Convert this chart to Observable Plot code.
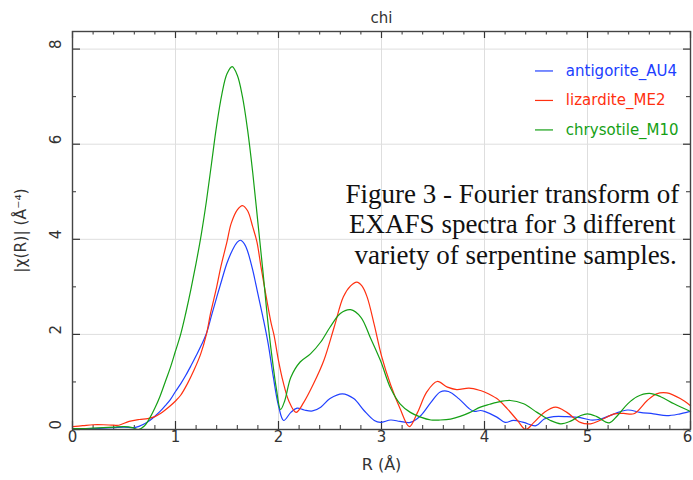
<!DOCTYPE html>
<html><head><meta charset="utf-8">
<script src="https://cdn.jsdelivr.net/npm/d3@7"></script>
<script src="https://cdn.jsdelivr.net/npm/@observablehq/plot@0.6"></script>
<style>body{margin:0;background:#fff;}</style>
</head><body><div id="chart"></div>
<script>
const title = "chi";
const xLabel = "R (Å)";
const yLabel = "|χ(R)| (Å⁻⁴)";
const seriesNames = ["antigorite_AU4", "lizardite_ME2", "chrysotile_M10"];
const seriesColors = ["#2040ff", "#ff3010", "#15a015"];
const annotation = "Figure 3 - Fourier transform of\nEXAFS spectra for 3 different\n variety of serpentine samples.";
const xTicks = [0, 1, 2, 3, 4, 5, 6];
const yTicks = [0, 2, 4, 6, 8];

// [R, |chi(R)|]
const antigorite = [[0,0.02],[0.2,0.02],[0.4,0.04],[0.5,0.05],[0.6,0.04],[0.65,0.07],[0.7,0.12],[0.75,0.19],[0.8,0.28],[0.85,0.38],[0.9,0.5],[0.95,0.63],[1.0,0.8],[1.05,0.96],[1.1,1.14],[1.15,1.34],[1.2,1.55],[1.25,1.77],[1.3,2.02],[1.35,2.4],[1.4,2.78],[1.45,3.15],[1.5,3.5],[1.55,3.76],[1.6,3.94],[1.63,3.98],[1.67,3.9],[1.7,3.75],[1.75,3.35],[1.8,2.85],[1.85,2.35],[1.9,1.8],[1.95,1.1],[2.0,0.5],[2.05,0.19],[2.12,0.36],[2.18,0.45],[2.25,0.41],[2.33,0.39],[2.41,0.47],[2.5,0.65],[2.62,0.75],[2.73,0.65],[2.83,0.4],[2.93,0.19],[2.99,0.15],[3.09,0.2],[3.18,0.17],[3.28,0.15],[3.38,0.29],[3.48,0.57],[3.57,0.79],[3.65,0.8],[3.75,0.65],[3.85,0.44],[3.9,0.38],[3.96,0.4],[4.0,0.38],[4.12,0.26],[4.2,0.15],[4.28,0.19],[4.38,0.15],[4.5,0.08],[4.58,0.22],[4.67,0.27],[4.8,0.27],[4.93,0.25],[5.03,0.2],[5.13,0.22],[5.26,0.33],[5.39,0.41],[5.51,0.36],[5.64,0.33],[5.77,0.29],[5.9,0.33],[6.0,0.38]];
const lizardite = [[0,0.06],[0.1,0.08],[0.2,0.1],[0.3,0.1],[0.4,0.09],[0.45,0.09],[0.55,0.17],[0.65,0.21],[0.73,0.23],[0.8,0.27],[0.85,0.33],[0.9,0.41],[0.95,0.5],[1.0,0.6],[1.05,0.72],[1.115,0.96],[1.18,1.25],[1.245,1.59],[1.3,2.0],[1.34,2.44],[1.4,3.0],[1.44,3.42],[1.5,3.95],[1.54,4.33],[1.6,4.62],[1.65,4.71],[1.7,4.6],[1.75,4.26],[1.79,3.95],[1.83,3.42],[1.88,2.8],[1.93,2.22],[1.955,2.0],[2.0,1.45],[2.045,1.0],[2.1,0.6],[2.17,0.36],[2.245,0.57],[2.34,0.96],[2.44,1.45],[2.54,2.15],[2.63,2.79],[2.7,3.02],[2.76,3.1],[2.81,3.02],[2.86,2.79],[2.93,2.2],[3.0,1.55],[3.09,0.93],[3.18,0.44],[3.27,0.06],[3.35,0.36],[3.44,0.79],[3.54,1.01],[3.64,0.89],[3.73,0.84],[3.85,0.87],[3.96,0.82],[4.0,0.79],[4.12,0.65],[4.22,0.44],[4.32,0.19],[4.4,0.0],[4.48,0.15],[4.58,0.36],[4.69,0.47],[4.8,0.36],[4.93,0.15],[5.03,0.12],[5.13,0.2],[5.26,0.33],[5.35,0.34],[5.45,0.33],[5.58,0.61],[5.67,0.75],[5.77,0.77],[5.9,0.65],[6.0,0.5]];
const chrysotile = [[0,0.02],[0.1,0.02],[0.2,0.03],[0.3,0.04],[0.4,0.05],[0.5,0.06],[0.58,0.04],[0.64,0.0],[0.7,0.08],[0.75,0.24],[0.8,0.45],[0.85,0.7],[0.9,1.0],[0.95,1.3],[1.0,1.65],[1.05,2.0],[1.1,2.45],[1.15,2.95],[1.2,3.5],[1.25,4.1],[1.3,4.8],[1.35,5.6],[1.4,6.4],[1.45,7.05],[1.5,7.48],[1.55,7.63],[1.6,7.45],[1.65,7.0],[1.7,6.3],[1.75,5.4],[1.8,4.35],[1.85,3.3],[1.9,2.2],[1.95,1.3],[1.98,0.85],[2.02,0.42],[2.06,0.6],[2.12,1.1],[2.21,1.42],[2.31,1.59],[2.41,1.84],[2.5,2.15],[2.6,2.44],[2.7,2.52],[2.8,2.36],[2.89,1.94],[2.99,1.45],[3.09,0.86],[3.18,0.54],[3.28,0.36],[3.38,0.26],[3.48,0.2],[3.57,0.2],[3.67,0.22],[3.77,0.28],[3.86,0.36],[3.96,0.47],[4.05,0.53],[4.12,0.57],[4.25,0.61],[4.38,0.54],[4.51,0.36],[4.64,0.19],[4.74,0.12],[4.83,0.17],[4.93,0.29],[5.0,0.33],[5.09,0.27],[5.21,0.14],[5.29,0.29],[5.39,0.54],[5.48,0.69],[5.6,0.76],[5.71,0.69],[5.84,0.54],[6.0,0.38]];

const seriesData = [antigorite, lizardite, chrysotile];

const W = 693, H = 480, mL = 72, mR = 3, mT = 31, mB = 51;
const yMax = 8.37;
const pxY = yMax / (H - mT - mB);          // data units per pixel (y)
const pxX = 6 / (W - mL - mR);             // data units per pixel (x)
const minorX = d3.range(0, 6.001, 0.2).map(v => +v.toFixed(1)).filter(v => !xTicks.includes(v));
const minorY = [1, 3, 5, 7];
const gridX = xTicks.filter(v => v > 0 && v < 6);
const gridY = yTicks.filter(v => v > 0);
const font = "DejaVu Sans, sans-serif";
const txt = "#333";

const marks = [
  Plot.ruleX(gridX, {stroke: "#dedede", strokeWidth: 1}),
  Plot.ruleY(gridY, {stroke: "#dedede", strokeWidth: 1}),
  // inward ticks
  Plot.ruleX(xTicks, {y1: 0, y2: 8 * pxY, stroke: "#333", strokeWidth: 1.2}),
  Plot.ruleX(minorX, {y1: 0, y2: 4 * pxY, stroke: "#333", strokeWidth: 1}),
  Plot.ruleX(xTicks, {y1: yMax, y2: yMax - 7 * pxY, stroke: "#333", strokeWidth: 1.2}),
  Plot.ruleX(minorX, {y1: yMax, y2: yMax - 3.5 * pxY, stroke: "#333", strokeWidth: 1}),
  Plot.ruleY(yTicks, {x1: 0, x2: 8 * pxX, stroke: "#333", strokeWidth: 1.2}),
  Plot.ruleY(minorY, {x1: 0, x2: 4 * pxX, stroke: "#333", strokeWidth: 1}),
  Plot.ruleY(yTicks, {x1: 6, x2: 6 - 7 * pxX, stroke: "#333", strokeWidth: 1.2}),
  Plot.ruleY(minorY, {x1: 6, x2: 6 - 4 * pxX, stroke: "#333", strokeWidth: 1}),
  ...seriesData.map((s, i) => Plot.line(s, {x: d => d[0], y: d => d[1], stroke: seriesColors[i], strokeWidth: 1.2, curve: "catmull-rom"})),
  Plot.frame({stroke: "#444", strokeWidth: 1.4}),
  // tick labels
  Plot.text(xTicks.slice(0, -1), {x: d => d, frameAnchor: "bottom", dy: 12, text: d => String(d), fontSize: 15, fill: txt}),
  Plot.text(xTicks.slice(-1), {x: d => d, frameAnchor: "bottom", dy: 12, dx: -3, text: d => String(d), fontSize: 15, fill: txt}),
  Plot.text(yTicks, {y: d => d, frameAnchor: "left", dx: -16, rotate: -90, text: d => String(d), fontSize: 15, fill: txt}),
  Plot.text([xLabel], {frameAnchor: "bottom", dy: 40, text: d => d, fontSize: 16, fill: txt}),
  Plot.text([yLabel], {frameAnchor: "left", dx: -51, rotate: -90, text: d => d, fontSize: 15.5, fill: txt, textAnchor: "middle"}),
  Plot.text([title], {frameAnchor: "top", dy: -19, text: d => d, fontSize: 15, fill: txt}),
  // legend
  Plot.ruleY(seriesNames, {y: (d, i) => 7.54 - i * 0.62, x1: 4.495, x2: 4.67, stroke: (d, i) => seriesColors[i], strokeWidth: 1.2}),
  Plot.text(seriesNames, {x: 4.79, y: (d, i) => 7.54 - i * 0.62, text: d => d, textAnchor: "start", fill: (d, i) => seriesColors[i], fontSize: 15}),
  // annotation
  Plot.text([annotation], {x: 4.27, y: 4.33, text: d => d, fontFamily: "Liberation Serif, Times New Roman, serif", fontSize: 27, lineHeight: 1.14, fill: "#111", textAnchor: "middle"})
];

const chart = Plot.plot({
  width: W, height: H,
  marginLeft: mL, marginRight: mR, marginTop: mT, marginBottom: mB,
  x: {domain: [0, 6], axis: null},
  y: {domain: [0, yMax], axis: null},
  style: {fontFamily: font, background: "#fff"},
  marks
});
document.getElementById("chart").appendChild(chart);
</script></body></html>
